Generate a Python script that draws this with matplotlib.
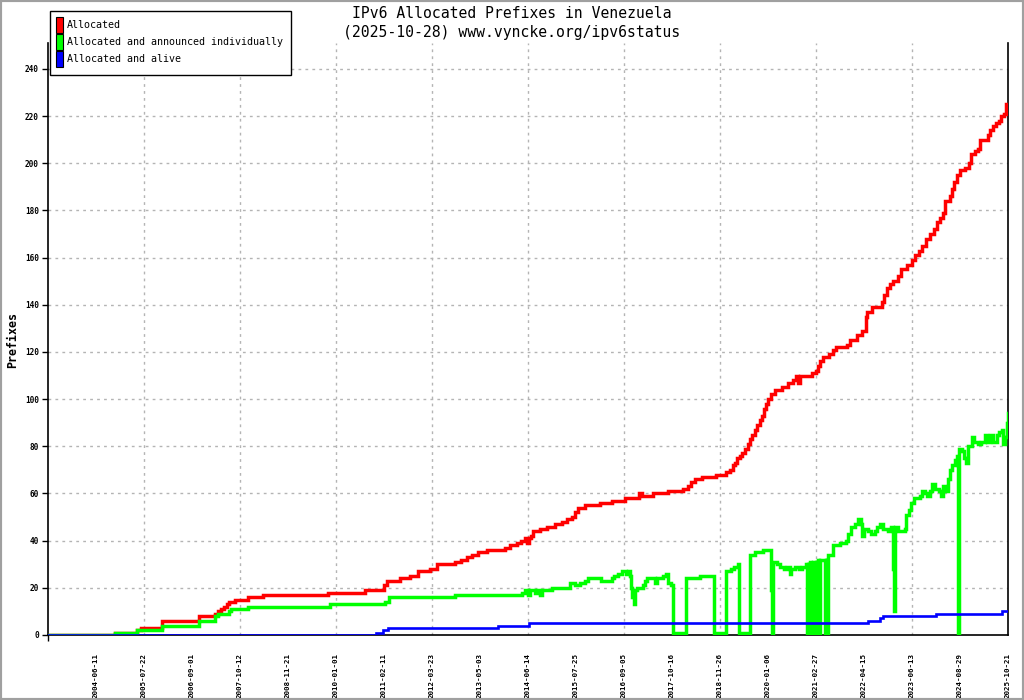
import matplotlib
matplotlib.use("Agg")
import matplotlib.pyplot as plt
from matplotlib.patches import Rectangle

# ---------------- data ----------------
title_lines = ["IPv6 Allocated Prefixes in Venezuela", "(2025-10-28) www.vyncke.org/ipv6status"]
ylabel = "Prefixes"
series_names = ["Allocated", "Allocated and announced individually", "Allocated and alive"]
series_colors = ["#ff0000", "#00ff00", "#0000ff"]

tick_labels = ['2004-06-11', '2005-07-22', '2006-09-01', '2007-10-12', '2008-11-21',
               '2010-01-01', '2011-02-11', '2012-03-23', '2013-05-03', '2014-06-14',
               '2015-07-25', '2016-09-05', '2017-10-16', '2018-11-26', '2020-01-06',
               '2021-02-27', '2022-04-15', '2023-06-13', '2024-08-29', '2025-10-21']
days_per_tick = 406
y_ticks = [0, 20, 40, 60, 80, 100, 120, 140, 160, 180, 200, 220, 240]

# sample index (day of record) and value at each change
red_day = [0, 567, 753, 787, 964, 1277, 1413, 1438, 1463, 1489, 1514, 1531, 1582, 1692, 1819,
           2368, 2681, 2842, 2867, 2977, 3062, 3130, 3231, 3290, 3443, 3493, 3544, 3586, 3637,
           3713, 3866, 3908, 3967, 4001, 4035, 4052, 4069, 4086, 4103, 4162, 4221, 4288, 4348,
           4390, 4432, 4457, 4483, 4542, 4669, 4770, 4880, 4999, 5024, 5117, 5244, 5371, 5413,
           5439, 5473, 5532, 5650, 5735, 5769, 5794, 5811, 5828, 5853, 5870, 5895, 5921, 5938,
           5955, 5980, 5997, 6022, 6039, 6056, 6073, 6090, 6115, 6149, 6208, 6259, 6301, 6327,
           6344, 6361, 6462, 6496, 6513, 6530, 6555, 6606, 6640, 6665, 6758, 6784, 6843, 6885,
           6919, 6927, 6970, 7054, 7071, 7097, 7122, 7147, 7190, 7215, 7266, 7308, 7333, 7367,
           7393, 7426, 7460, 7494, 7519, 7545, 7570, 7587, 7629, 7646, 7663, 7689, 7714, 7756,
           7790, 7807, 7841, 7866, 7883, 7951, 7968, 7993, 8019, 8044, 8061, 8086, 8103, 8120]
red_val = [0, 1, 2, 3, 6, 8, 9, 10, 11, 12, 13, 14, 15, 16, 17,
           18, 19, 21, 23, 24, 25, 27, 28, 30, 31, 32, 33, 34, 35,
           36, 37, 38, 39, 40, 41, 39, 41, 42, 44, 45, 46, 47, 48,
           49, 50, 52, 54, 55, 56, 57, 58, 60, 59, 60, 61, 62, 63,
           65, 66, 67, 68, 69, 70, 72, 73, 75, 76, 77, 79, 81, 83,
           85, 87, 89, 91, 93, 96, 98, 100, 102, 104, 105, 107, 108, 110,
           107, 110, 111, 112, 114, 116, 118, 119, 121, 122, 123, 125, 127, 129,
           135, 137, 139, 141, 144, 147, 149, 150, 152, 155, 157, 159, 161, 163,
           165, 168, 170, 172, 175, 177, 179, 184, 186, 189, 192, 195, 197, 198,
           200, 204, 205, 206, 210, 212, 214, 216, 217, 218, 220, 221, 225, 225]

green_day = [0, 567, 753, 964, 1277, 1413, 1438, 1531, 1548, 1692, 2385, 2850, 2884, 3443,
             4009, 4035, 4060, 4077, 4119, 4136, 4162, 4178, 4263, 4415, 4457, 4500, 4542, 4567,
             4677, 4770, 4787, 4821, 4855, 4889, 4906, 4923, 4931, 4940, 4948, 4957, 4965, 4982,
             5033, 5050, 5066, 5134, 5151, 5202, 5227, 5244, 5270, 5286, 5396, 5515, 5633, 5735,
             5777, 5802, 5836, 5845, 5938, 5980, 6048, 6115, 6124, 6132, 6166, 6191, 6225, 6251,
             6276, 6285, 6318, 6352, 6378, 6411, 6420, 6428, 6437, 6445, 6454, 6462, 6467,
             6490, 6497, 6504, 6513, 6521, 6530, 6536, 6574, 6581, 6589, 6597, 6640, 6699,
             6750, 6767, 6792, 6826, 6851, 6877, 6885, 6902, 6936, 6961, 6995, 7012, 7037, 7063,
             7105, 7130, 7147, 7156, 7164, 7190, 7249, 7257, 7283, 7300, 7325, 7376, 7393, 7418,
             7435, 7460, 7477, 7502, 7536, 7553, 7570, 7596, 7612, 7629, 7646, 7672, 7689, 7697,
             7706, 7731, 7748, 7765, 7782, 7815, 7832, 7866, 7892, 7925, 7942, 7968, 7993, 8027,
             8044, 8069, 8078, 8095, 8111, 8120]
green_val = [0, 1, 2, 4, 6, 8, 9, 10, 11, 12, 13, 14, 16, 17,
             18, 19, 17, 19, 18, 19, 17, 19, 20, 22, 21, 22, 23, 24,
             23, 24, 25, 26, 27, 26, 27, 25, 20, 16, 18, 13, 19, 20,
             21, 23, 24, 22, 24, 25, 26, 22, 21, 1, 24, 25, 1, 27,
             28, 29, 30, 1, 34, 35, 36, 19, 0, 31, 30, 29, 28, 29,
             26, 28, 29, 28, 29, 30, 0, 30, 0, 31, 0, 30, 31,
             0, 31, 0, 32, 0, 32, 32, 0, 32, 0, 34, 38, 39,
             40, 43, 46, 47, 49, 47, 42, 45, 44, 43, 44, 46, 47, 45,
             44, 46, 28, 10, 46, 44, 45, 51, 53, 56, 58, 59, 61, 60,
             59, 61, 64, 62, 61, 59, 63, 61, 66, 70, 72, 74, 76, 0,
             79, 78, 75, 73, 80, 84, 82, 81, 82, 85, 82, 85, 82, 85,
             86, 87, 81, 84, 90, 94]

blue_day = [0, 2774, 2834, 2876, 3806, 4069, 6936, 7037, 7063, 7511, 8069, 8120]
blue_val = [0, 1, 2, 3, 4, 5, 6, 7, 8, 9, 10, 10]

# ---------------- figure ----------------
W, H = 1024, 700
fig = plt.figure(figsize=(W / 100, H / 100), dpi=100)
fig.patch.set_facecolor("white")

def fx(px):
    return px / W

def fy(py):
    return 1 - py / H

ax = fig.add_axes([fx(48), fy(635), fx(1008) - fx(48), fy(43) - fy(635)])
mono = "DejaVu Sans Mono"

n_ticks = len(tick_labels)
xmax = days_per_tick * n_ticks
ax.set_xlim(0, xmax)
ax.set_ylim(0, 251)

# grid
grid_kw = dict(color="#b4b4b4", linewidth=1.0, linestyle=(0, (2, 3)), zorder=0)
for y in y_ticks[1:]:
    ax.axhline(y, **grid_kw)
for k in range(2, n_ticks, 2):
    ax.axvline(k * days_per_tick, **grid_kw)

lw = [2.5, 2.5, 1.9]
ax.plot(red_day, red_val, drawstyle="steps-post", color=series_colors[0], lw=lw[0], zorder=3,
        solid_joinstyle="miter")
ax.plot(green_day, green_val, drawstyle="steps-post", color=series_colors[1], lw=lw[1], zorder=4,
        solid_joinstyle="miter")
ax.plot(blue_day, blue_val, drawstyle="steps-post", color=series_colors[2], lw=lw[2], zorder=5,
        solid_joinstyle="miter")

# spines
ax.spines["top"].set_visible(False)
for s in ["left", "bottom", "right"]:
    ax.spines[s].set_linewidth(1.2)
    ax.spines[s].set_color("black")

# y ticks
ax.set_yticks(y_ticks)
ax.set_yticklabels([str(v) for v in y_ticks], fontfamily=mono, fontweight="bold", fontsize=5.6)
ax.tick_params(axis="y", direction="out", length=4, width=1, pad=2.5)

# x ticks: labels at every tick date, marks only at every other one
tick_pos = [days_per_tick * (i + 1) for i in range(n_ticks)]
ax.set_xticks(tick_pos)
ax.set_xticklabels(tick_labels, rotation=90, fontfamily=mono, fontweight="bold", fontsize=5.4)
ax.tick_params(axis="x", which="major", length=0, pad=13)
ax.set_xticks([k * days_per_tick for k in range(0, n_ticks + 1, 2)], minor=True)
ax.tick_params(axis="x", which="minor", direction="out", length=4.5, width=1)

# y label
fig.text(fx(13), fy(340), ylabel, rotation=90, ha="center", va="center",
         fontfamily=mono, fontweight="bold", fontsize=8.4)

# title
fig.text(fx(512), fy(14), title_lines[0], ha="center", va="center", fontfamily=mono, fontsize=10.6)
fig.text(fx(512), fy(32), title_lines[1], ha="center", va="center", fontfamily=mono, fontsize=10.6)

# legend (drawn by hand, gnuplot-style)
fig.add_artist(Rectangle((fx(50), fy(75)), fx(291) - fx(50), fy(11) - fy(75),
                         transform=fig.transFigure, facecolor="white", edgecolor="black",
                         linewidth=1.0, zorder=10))
rows = [25, 42, 59]
for name, col, ry in zip(series_names, series_colors, rows):
    fig.add_artist(Rectangle((fx(56), fy(ry + 7.5)), fx(6.5), fy(0) - fy(15),
                             transform=fig.transFigure, facecolor=col, edgecolor="black",
                             linewidth=0.8, zorder=11))
    fig.text(fx(67), fy(ry), name, ha="left", va="center", fontfamily=mono, fontsize=7.2, zorder=12)

# grey frame around the whole picture
fig.add_artist(Rectangle((0, 0), 1, 1, transform=fig.transFigure, fill=False,
                         edgecolor="#a0a0a0", linewidth=3, zorder=20))

fig.savefig("out.png", dpi=100, facecolor="white")
